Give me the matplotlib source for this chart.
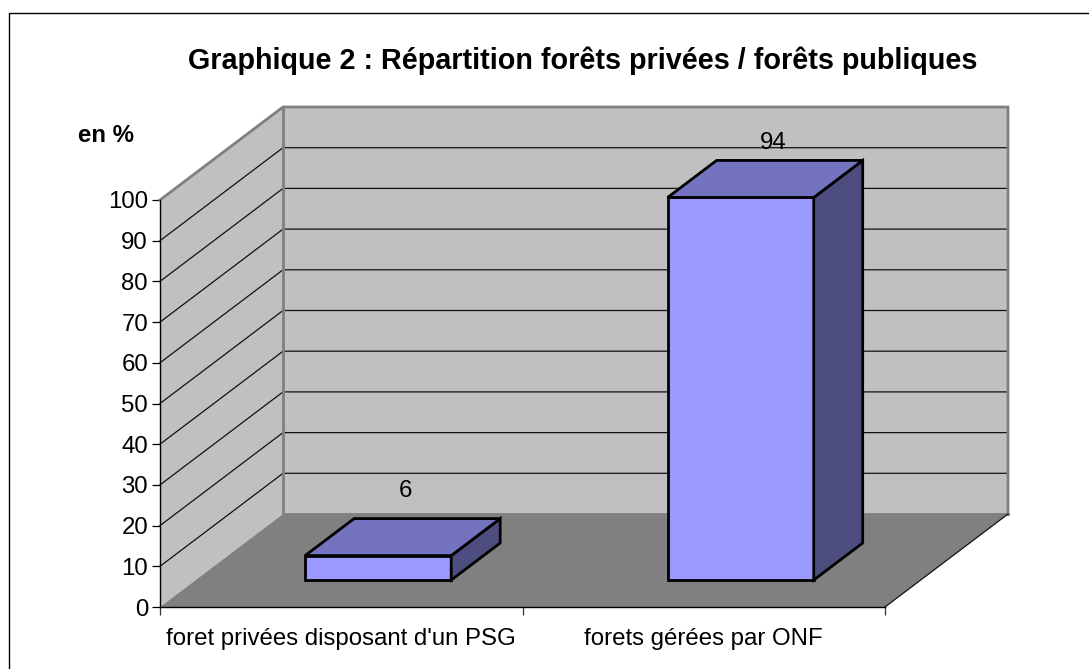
import matplotlib
matplotlib.use("Agg")
import matplotlib.pyplot as plt
from matplotlib.patches import Polygon

categories = ["foret privées disposant d'un PSG", "forets gérées par ONF"]
values = [6, 94]
y_ticks = [0, 10, 20, 30, 40, 50, 60, 70, 80, 90, 100]
title = "Graphique 2 : Répartition forêts privées / forêts publiques"
y_title = "en %"

W, H = 1089, 669
plt.rcParams['font.family'] = ['Liberation Sans', 'DejaVu Sans']
fig = plt.figure(figsize=(W / 100, H / 100), dpi=100)
ax = fig.add_axes([160 / W, (H - 607) / H, 725 / W, 407 / H])
ax.set_xlim(0, len(categories))
ax.set_ylim(0, 100)
ax.patch.set_visible(False)

PX_X = 725 / len(categories)
PX_Y = 407 / 100
DX = 123 / PX_X   # full depth offset in x units
DY = 93 / PX_Y    # full depth offset in y units


def proj(x, y, d=0.0):
    return (x + d * DX, y + d * DY)


def face(points, **kw):
    ax.add_patch(Polygon([proj(*p) for p in points], closed=True, clip_on=False, **kw))


def line(points, **kw):
    xs, ys = zip(*[proj(*p) for p in points])
    ax.plot(xs, ys, clip_on=False, **kw)


n = len(categories)
GRAY = '#808080'
# walls and floor
face([(0, 0, 1), (n, 0, 1), (n, 100, 1), (0, 100, 1)], facecolor='#C0C0C0', edgecolor='none', zorder=1)
face([(0, 0, 0), (0, 0, 1), (0, 100, 1), (0, 100, 0)], facecolor='#C0C0C0', edgecolor='none', zorder=1)
face([(0, 0, 0), (n, 0, 0), (n, 0, 1), (0, 0, 1)], facecolor=GRAY, edgecolor='none', zorder=1)

# gridlines
for t in y_ticks[1:-1]:
    line([(0, t, 0), (0, t, 1), (n, t, 1)], color='#111111', lw=0.9, zorder=2)

# wall outlines
line([(0, 100, 0), (0, 100, 1), (n, 100, 1), (n, 0, 1)], color=GRAY, lw=2.0, zorder=3, solid_joinstyle='miter')
line([(0, 100, 1), (0, 0, 1), (n, 0, 1)], color=GRAY, lw=2.0, zorder=3)
line([(n, 0, 0), (n, 0, 1)], color='#111111', lw=0.9, zorder=3)

# bars
FRONT, SIDE, TOP = '#9999FF', '#4D4D80', '#7373BF'
BW = 0.403
SHIFT = 0.0035
D0, D1 = 0.29, 0.688
LABEL_OFFSETS = [(3, 46), (8, 36)]   # pixels from the centre of the bar top
for i, v in enumerate(values):
    c = i + 0.5 + SHIFT
    x0, x1 = c - BW / 2, c + BW / 2
    kw = dict(edgecolor='black', lw=2.0, joinstyle='miter', zorder=5)
    face([(x0, 0, D0), (x1, 0, D0), (x1, v, D0), (x0, v, D0)], facecolor=FRONT, **kw)
    face([(x1, 0, D0), (x1, 0, D1), (x1, v, D1), (x1, v, D0)], facecolor=SIDE, **kw)
    face([(x0, v, D0), (x1, v, D0), (x1, v, D1), (x0, v, D1)], facecolor=TOP, **kw)
    tx, ty = proj(c, v, (D0 + D1) / 2)
    ax.annotate(str(v), (tx, ty), xytext=LABEL_OFFSETS[i], textcoords='offset pixels',
                ha='center', va='center', fontsize=17.3, color='black', zorder=4,
                annotation_clip=False)

# axes
for s in ('top', 'right'):
    ax.spines[s].set_visible(False)
for s in ('left', 'bottom'):
    ax.spines[s].set_linewidth(1.0)
    ax.spines[s].set_color('black')
    ax.spines[s].set_zorder(4)
ax.set_yticks(y_ticks)
ax.set_yticklabels([str(t) for t in y_ticks])
ax.tick_params(axis='y', length=6, width=0.9, labelsize=17.3, pad=2.6)
ax.set_xticks(range(n + 1))
ax.set_xticklabels([''] * (n + 1))
ax.tick_params(axis='x', length=6, width=0.9, color='#333333')
ax.set_xticks([i + 0.5 for i in range(n)], minor=True)
ax.set_xticklabels(categories, minor=True, fontsize=17.3)
ax.tick_params(axis='x', which='minor', length=0, pad=15.2)

# titles and frame
fig.text(582.5 / W, 1 - 60.5 / H, title, ha='center', va='center', fontsize=20.7, fontweight='bold')
fig.text(106.5 / W, 1 - 136 / H, y_title, ha='center', va='center', fontsize=17.3, fontweight='bold')
fig.add_artist(plt.Line2D([8.5 / W, 8.5 / W, 1.0], [0, 1 - 12.5 / H, 1 - 12.5 / H], color='black', lw=1.0))

fig.savefig('out.png', dpi=100)
